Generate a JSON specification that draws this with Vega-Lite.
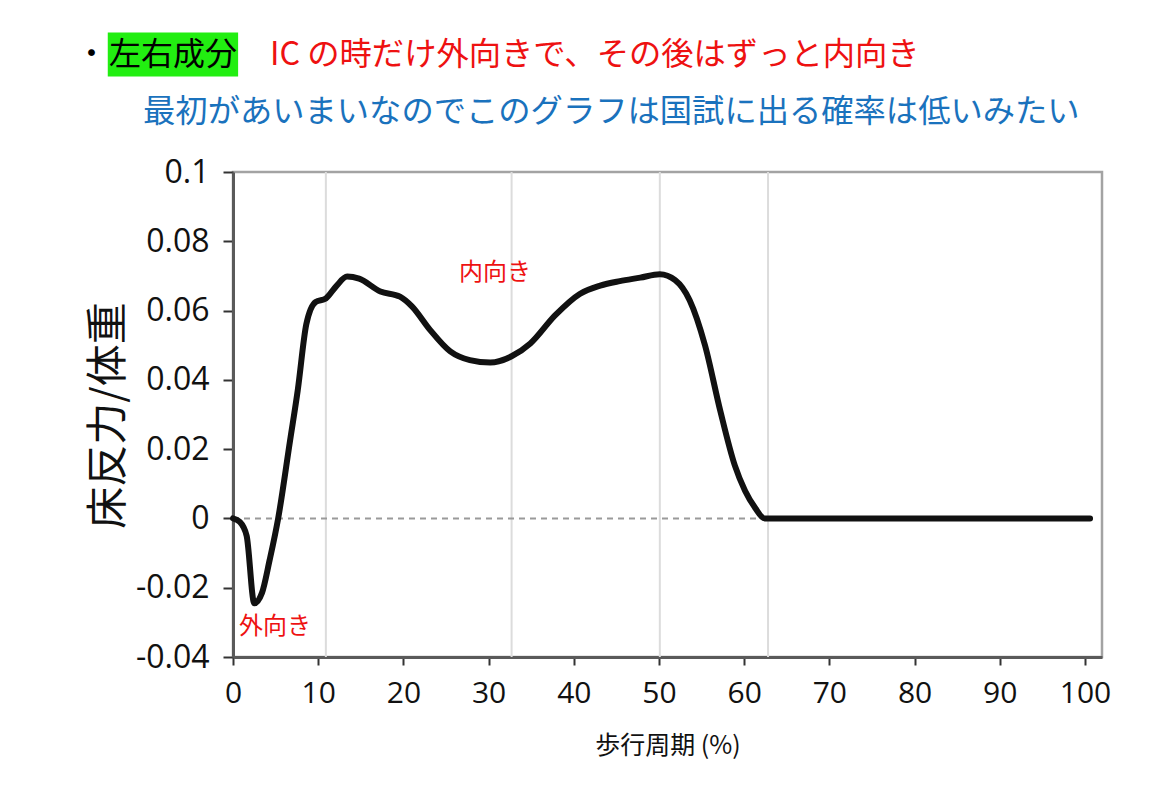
{
  "$schema": "https://vega.github.io/schema/vega-lite/v6.json",
  "description": "左右成分の床反力（体重比）と歩行周期",
  "autosize": {"type": "none"},
  "padding": {"left": 233, "top": 172, "right": 50, "bottom": 141},
  "width": 869,
  "height": 485,
  "background": "white",
  "config": {
    "view": {"stroke": "#a3a3a3", "strokeWidth": 2.5},
    "font": "Noto Sans CJK JP"
  },
  "encoding": {
    "x": {
      "field": "pct",
      "type": "quantitative",
      "scale": {"domain": [0, 102], "nice": false, "zero": false},
      "axis": {
        "values": [0, 10, 20, 30, 40, 50, 60, 70, 80, 90, 100],
        "grid": false,
        "labelFlush": false,
        "domainColor": "#5a5a5a",
        "domainWidth": 3,
        "tickColor": "#333333",
        "tickWidth": 2,
        "tickSize": 8,
        "labelFont": "Open Sans",
        "labelFontSize": 30,
        "labelColor": "#111111",
        "labelPadding": 13,
        "title": "歩行周期  (%)",
        "titleFont": "Noto Sans CJK JP",
        "titleFontSize": 25,
        "titleFontWeight": "normal",
        "titleColor": "#111111",
        "titleBaseline": "middle",
        "titleY": 88
      }
    },
    "y": {
      "field": "ratio",
      "type": "quantitative",
      "scale": {"domain": [-0.04, 0.1], "nice": false, "zero": false},
      "axis": {
        "values": [-0.04, -0.02, 0, 0.02, 0.04, 0.06, 0.08, 0.1],
        "labelExpr": "'' + datum.value",
        "labelFlush": false,
        "grid": false,
        "domainColor": "#5a5a5a",
        "domainWidth": 3,
        "tickColor": "#333333",
        "tickWidth": 2,
        "tickSize": 10,
        "labelFont": "Open Sans",
        "labelFontSize": 32,
        "labelColor": "#111111",
        "labelPadding": 14,
        "title": "床反力/体重",
        "titleFont": "Noto Sans CJK JP",
        "titleFontSize": 42,
        "titleFontWeight": "normal",
        "titleColor": "#111111",
        "titleAngle": -90,
        "titleAlign": "center",
        "titleBaseline": "middle",
        "titleX": -125,
        "titleY": 243
      }
    }
  },
  "layer": [
    {
      "data": {"values": [{"box": "左右成分", "pct": -14.7, "pct_end": 0.6, "ratio": 0.1403, "ratio_end": 0.1276}]},
      "mark": {"type": "rect", "color": "#22ee11"},
      "encoding": {
        "x2": {"field": "pct_end"},
        "y2": {"field": "ratio_end"}
      }
    },
    {
      "data": {"values": [{"pct": 10.9}, {"pct": 32.7}, {"pct": 50.1}, {"pct": 62.8}]},
      "mark": {"type": "rule", "color": "#dcdcdc", "strokeWidth": 2},
      "encoding": {"y": {"value": 0}, "y2": {"value": 485}}
    },
    {
      "data": {"values": [{"ratio": 0}]},
      "mark": {"type": "rule", "color": "#9a9a9a", "strokeWidth": 2, "strokeDash": [6, 5]},
      "encoding": {"x": {"value": 0}, "x2": {"value": 852}}
    },
    {
      "data": {
        "values": [
          {"pct": 0, "ratio": 0},
          {"pct": 0.8, "ratio": -0.001},
          {"pct": 1.6, "ratio": -0.005},
          {"pct": 2.5, "ratio": -0.0245},
          {"pct": 3.4, "ratio": -0.0215},
          {"pct": 4.3, "ratio": -0.012},
          {"pct": 5.3, "ratio": 0},
          {"pct": 6.7, "ratio": 0.0225},
          {"pct": 7.6, "ratio": 0.037},
          {"pct": 8.6, "ratio": 0.056},
          {"pct": 9.7, "ratio": 0.0625},
          {"pct": 10.9, "ratio": 0.0635},
          {"pct": 12.1, "ratio": 0.067},
          {"pct": 13.4, "ratio": 0.0698},
          {"pct": 14.8, "ratio": 0.0692},
          {"pct": 17.3, "ratio": 0.0655},
          {"pct": 19.6, "ratio": 0.064},
          {"pct": 21.0, "ratio": 0.0612},
          {"pct": 23.1, "ratio": 0.0545},
          {"pct": 25.5, "ratio": 0.0482},
          {"pct": 27.8, "ratio": 0.0457},
          {"pct": 30.2, "ratio": 0.045},
          {"pct": 32.7, "ratio": 0.0468},
          {"pct": 34.9, "ratio": 0.0505},
          {"pct": 37.8, "ratio": 0.0586},
          {"pct": 40.7, "ratio": 0.0648},
          {"pct": 43.1, "ratio": 0.0672},
          {"pct": 45.4, "ratio": 0.0685},
          {"pct": 47.8, "ratio": 0.0695},
          {"pct": 50.1, "ratio": 0.0705},
          {"pct": 51.9, "ratio": 0.0688},
          {"pct": 53.6, "ratio": 0.063},
          {"pct": 55.4, "ratio": 0.05},
          {"pct": 57.2, "ratio": 0.031},
          {"pct": 58.9, "ratio": 0.0153},
          {"pct": 60.1, "ratio": 0.008},
          {"pct": 61.3, "ratio": 0.003},
          {"pct": 62.4, "ratio": 0},
          {"pct": 70, "ratio": 0},
          {"pct": 80, "ratio": 0},
          {"pct": 90, "ratio": 0},
          {"pct": 100.6, "ratio": 0}
        ]
      },
      "mark": {"type": "line", "color": "#111111", "strokeWidth": 6, "interpolate": "monotone", "strokeCap": "round", "strokeJoin": "round"}
    },
    {
      "data": {
        "values": [
          {"label": "内向き", "pct": 30.75, "ratio": 0.0709},
          {"label": "外向き", "pct": 4.93, "ratio": -0.0313}
        ]
      },
      "mark": {"type": "text", "color": "#ee1111", "fontSize": 24, "align": "center", "baseline": "middle"},
      "encoding": {"text": {"field": "label"}}
    },
    {
      "data": {
        "values": [
          {"label": "・", "pct": -16.6, "ratio": 0.1337},
          {"label": "左右成分", "pct": -7.05, "ratio": 0.1337}
        ]
      },
      "mark": {"type": "text", "color": "#000000", "fontSize": 32, "align": "center", "baseline": "middle"},
      "encoding": {"text": {"field": "label"}}
    },
    {
      "data": {
        "values": [
          {"label": "IC の時だけ外向きで、その後はずっと内向き", "pct": 4.34, "ratio": 0.1337, "kind": "red"},
          {"label": "最初があいまいなのでこのグラフは国試に出る確率は低いみたい", "pct": -10.56, "ratio": 0.1172, "kind": "blue"}
        ]
      },
      "mark": {"type": "text", "fontSize": 32.3, "align": "left", "baseline": "middle"},
      "encoding": {
        "text": {"field": "label"},
        "color": {
          "field": "kind",
          "type": "nominal",
          "scale": {"domain": ["red", "blue"], "range": ["#ee1111", "#1a72bd"]},
          "legend": null
        }
      }
    }
  ]
}
